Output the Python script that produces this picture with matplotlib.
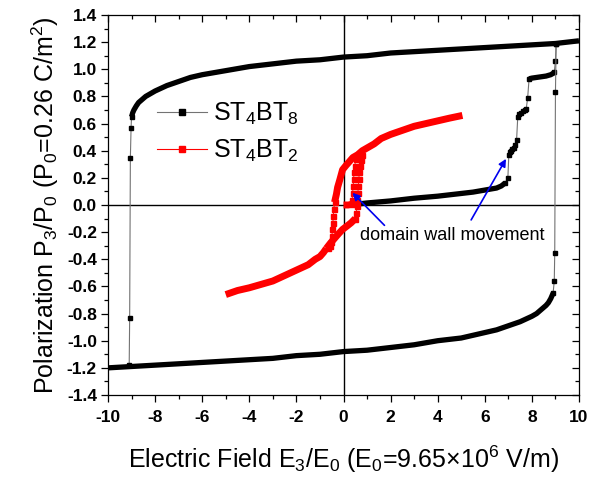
import matplotlib
matplotlib.use("Agg")
import matplotlib.pyplot as plt
from matplotlib.lines import Line2D
from matplotlib.ticker import MultipleLocator

plt.rcParams['font.family'] = ['Liberation Sans', 'DejaVu Sans']
plt.rcParams['mathtext.fontset'] = 'custom'
plt.rcParams['mathtext.rm'] = 'Liberation Sans'
plt.rcParams['mathtext.it'] = 'Liberation Sans:italic'
plt.rcParams['mathtext.bf'] = 'Liberation Sans:bold'
plt.rcParams['axes.unicode_minus'] = False

# ---------------- data: ST4BT8 ----------------
bt8_upper_x = [-9.0, -8.95, -8.9, -8.8, -8.7, -8.6, -8.4, -8.2, -8.0, -7.5, -7.0, -6.5, -6.0, -5.0,
               -4.0, -3.0, -2.0, -1.0, 0.0, 1.0, 2.0, 3.0, 4.0, 5.0, 6.0, 7.0, 8.0, 9.0, 10.0]
bt8_upper_y = [0.65, 0.68, 0.70, 0.73, 0.755, 0.77, 0.80, 0.82, 0.84, 0.88, 0.91, 0.94, 0.96, 0.99,
               1.02, 1.04, 1.06, 1.07, 1.09, 1.10, 1.12, 1.13, 1.14, 1.15, 1.16, 1.17, 1.18, 1.19, 1.21]
bt8_lower_x = [-10.0, -9.0, -8.0, -7.0, -6.0, -5.0, -4.0, -3.0, -2.0, -1.0, 0.0, 1.0, 2.0, 3.0,
               4.0, 5.0, 6.0, 6.5, 7.0, 7.5, 8.0, 8.2, 8.4, 8.5, 8.6, 8.7, 8.8, 8.85, 8.9]
bt8_lower_y = [-1.20, -1.19, -1.18, -1.17, -1.16, -1.15, -1.14, -1.13, -1.11, -1.10, -1.08, -1.07,
               -1.05, -1.03, -1.00, -0.98, -0.94, -0.92, -0.89, -0.86, -0.82, -0.80, -0.77, -0.755,
               -0.74, -0.72, -0.69, -0.67, -0.65]
bt8_init_x = [0.25, 1.0, 2.0, 3.0, 4.0, 5.0, 5.5, 6.0, 6.5, 6.7, 6.85]
bt8_init_y = [0.00, 0.015, 0.03, 0.05, 0.065, 0.085, 0.095, 0.11, 0.125, 0.14, 0.16]
bt8_steps_x = [6.85, 6.98, 7.02, 7.06, 7.11, 7.17, 7.24, 7.30, 7.35, 7.40, 7.46, 7.54, 7.62, 7.70,
               7.76, 7.82, 7.88]
bt8_steps_y = [0.16, 0.20, 0.37, 0.39, 0.40, 0.41, 0.42, 0.44, 0.48, 0.65, 0.67, 0.68, 0.69, 0.70,
               0.71, 0.79, 0.93]
bt8_plateau_x = [7.88, 8.0, 8.2, 8.4, 8.6, 8.8, 8.9, 8.95]
bt8_plateau_y = [0.93, 0.935, 0.94, 0.945, 0.95, 0.96, 0.97, 0.98]
bt8_top_x = [8.95, 9.0, 9.03]
bt8_top_y = [0.98, 1.06, 1.19]
bt8_down_x = [-9.0, -9.02, -9.05, -9.08, -9.1]
bt8_down_y = [0.65, 0.57, 0.35, -0.83, -1.18]
bt8_up_x = [8.9, 8.95, 8.97, 9.0, 9.03]
bt8_up_y = [-0.65, -0.56, -0.35, 0.83, 1.19]

# ---------------- data: ST4BT2 ----------------
bt2_upper_x = [-0.38, -0.3, -0.25, -0.15, -0.04, 0.1, 0.25, 0.4, 0.6, 0.8, 1.0, 1.3, 1.6, 2.0,
               2.5, 3.0, 3.5, 4.0, 4.5, 5.05]
bt2_upper_y = [0.02, 0.08, 0.13, 0.19, 0.26, 0.29, 0.32, 0.35, 0.37, 0.40, 0.42, 0.45, 0.49, 0.52,
               0.55, 0.58, 0.60, 0.62, 0.64, 0.66]
bt2_dsw_x = [-0.38, -0.41, -0.43, -0.45, -0.47, -0.49, -0.52, -0.58, -0.66]
bt2_dsw_y = [0.02, -0.03, -0.08, -0.13, -0.18, -0.23, -0.27, -0.30, -0.315]
bt2_lower_x = [-5.0, -4.5, -4.0, -3.5, -3.0, -2.5, -2.0, -1.5, -1.2, -1.0, -0.85, -0.73]
bt2_lower_y = [-0.66, -0.63, -0.61, -0.585, -0.56, -0.52, -0.48, -0.44, -0.40, -0.38, -0.35, -0.32]
bt2_asc_x = [-0.73, -0.55, -0.4, -0.2, -0.04, 0.15, 0.33, 0.5]
bt2_asc_y = [-0.32, -0.28, -0.25, -0.21, -0.18, -0.155, -0.13, -0.10]
bt2_asw_x = [0.5, 0.55, 0.57, 0.59, 0.61, 0.63, 0.65, 0.67, 0.70, 0.73, 0.78]
bt2_asw_y = [-0.10, -0.06, -0.01, 0.04, 0.09, 0.14, 0.19, 0.24, 0.29, 0.33, 0.37]
bt2_init_x = [0.0, 0.2, 0.35]
bt2_init_y = [0.0, 0.0, 0.005]
bt2_isw_x = [0.35, 0.37, 0.39, 0.41, 0.43, 0.45, 0.48, 0.52]
bt2_isw_y = [0.005, 0.04, 0.09, 0.14, 0.19, 0.24, 0.29, 0.34]

x_ticks = [-10, -8, -6, -4, -2, 0, 2, 4, 6, 8, 10]
y_ticks = [-1.4, -1.2, -1.0, -0.8, -0.6, -0.4, -0.2, 0.0, 0.2, 0.4, 0.6, 0.8, 1.0, 1.2, 1.4]

fig = plt.figure(figsize=(5.97, 4.79), dpi=100)
ax = fig.add_axes([108/597, 1-395/479, 471/597, 380/479])

ax.axhline(0, color='black', lw=1.0, zorder=1)
ax.axvline(0, color='black', lw=1.0, zorder=1)

BLK = 'black'
GRY = '0.45'
RED = '#ff0000'
dense_b = dict(color=BLK, lw=3.8, solid_capstyle='butt', solid_joinstyle='round', zorder=3)
sparse_b = dict(color=GRY, lw=0.8, marker='s', ms=3.2, mfc=BLK, mec=BLK, zorder=3)

for xs, ys in [(bt8_upper_x, bt8_upper_y), (bt8_lower_x, bt8_lower_y),
               (bt8_init_x, bt8_init_y), (bt8_plateau_x, bt8_plateau_y)]:
    ax.plot(xs, ys, **dense_b)
for xs, ys in [(bt8_steps_x, bt8_steps_y), (bt8_top_x, bt8_top_y),
               (bt8_down_x, bt8_down_y), (bt8_up_x, bt8_up_y)]:
    ax.plot(xs, ys, **sparse_b)

dense_r = dict(color=RED, lw=5.0, solid_capstyle='butt', solid_joinstyle='round', zorder=4)
sparse_r = dict(color=RED, lw=0.6, marker='s', ms=3.6, mfc=RED, mec=RED, zorder=4)
for xs, ys in [(bt2_upper_x, bt2_upper_y), (bt2_lower_x, bt2_lower_y),
               (bt2_asc_x, bt2_asc_y), (bt2_init_x, bt2_init_y)]:
    ax.plot(xs, ys, **dense_r)
for xs, ys in [(bt2_dsw_x, bt2_dsw_y), (bt2_asw_x, bt2_asw_y), (bt2_isw_x, bt2_isw_y)]:
    ax.plot(xs, ys, **sparse_r)

# annotations
arrow = dict(arrowstyle='-|>', color='#0000ee', lw=1.2, mutation_scale=11, shrinkA=0, shrinkB=0)
ax.annotate('', xy=(0.38, 0.09), xytext=(1.74, -0.15), arrowprops=arrow, zorder=6)
ax.annotate('', xy=(6.9, 0.34), xytext=(5.42, -0.11), arrowprops=arrow, zorder=6)
ax.text(0.68, -0.225, 'domain wall movement', fontsize=13, va='center', ha='left', zorder=6)

# legend
h1 = Line2D([], [], color=GRY, lw=0.8, marker='s', ms=4, mfc=BLK, mec=BLK)
h2 = Line2D([], [], color=RED, lw=0.8, marker='s', ms=4, mfc=RED, mec=RED)
ax.legend([h1, h2], ['ST$_4$BT$_8$', 'ST$_4$BT$_2$'], loc='upper left',
          bbox_to_anchor=(0.104, 0.775), frameon=False, fontsize=18, handlelength=2.0,
          handletextpad=0.25, borderpad=0, borderaxespad=0, labelspacing=0.45)

ax.set_xlim(-10, 10)
ax.set_ylim(-1.4, 1.4)
ax.set_xticks(x_ticks)
ax.set_xticklabels([str(v) for v in x_ticks], fontweight='bold', fontsize=12.5)
ax.set_yticks(y_ticks)
ax.set_yticklabels([f'{v:.1f}' for v in y_ticks], fontweight='bold', fontsize=12.5)
ax.xaxis.set_minor_locator(MultipleLocator(1))
ax.yaxis.set_minor_locator(MultipleLocator(0.1))
ax.tick_params(which='both', top=True, right=True, direction='out')
ax.tick_params(which='major', length=5, width=0.9)
ax.tick_params(which='minor', length=3, width=0.9)
ax.tick_params(axis='x', which='major', pad=6)
ax.tick_params(axis='y', which='major', pad=3)
# top and right ticks point inward
for t in ax.xaxis.get_major_ticks() + ax.xaxis.get_minor_ticks():
    t.tick2line.set_marker(3)  # TICKDOWN
for t in ax.yaxis.get_major_ticks() + ax.yaxis.get_minor_ticks():
    t.tick2line.set_marker(0)  # TICKLEFT
for s in ax.spines.values():
    s.set_linewidth(0.9)

ax.set_xlabel('Electric Field E$_3$/E$_0$ (E$_0$=9.65×10$^6$ V/m)', fontsize=18, labelpad=13)
ax.set_ylabel('Polarization P$_3$/P$_0$ (P$_0$=0.26 C/m$^2$)', fontsize=18, labelpad=4)

fig.savefig('out.png', dpi=100)
